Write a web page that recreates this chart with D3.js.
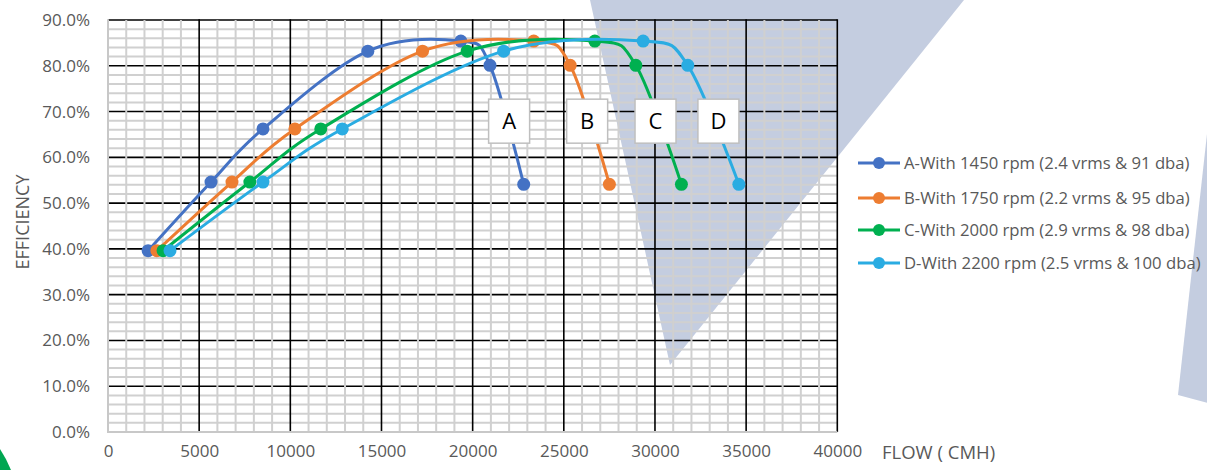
<!DOCTYPE html>
<html><head><meta charset="utf-8">
<script src="https://cdn.jsdelivr.net/npm/d3@7"></script>
<style>
html,body{margin:0;padding:0;background:#fff;}
svg{display:block;font-family:"Open Sans","Noto Sans",sans-serif;}
</style></head>
<body><svg id="chart" width="1207" height="470"></svg>
<script>
// ---- data ----
const seriesNames = [
  "A-With 1450 rpm (2.4 vrms & 91 dba)",
  "B-With 1750 rpm (2.2 vrms & 95 dba)",
  "C-With 2000 rpm (2.9 vrms & 98 dba)",
  "D-With 2200 rpm (2.5 vrms & 100 dba)"
];
const seriesLetters = ["A", "B", "C", "D"];
const seriesColors = ["#4472C4", "#ED7D31", "#00B050", "#2AACE2"];
const flowA = [2200, 5650, 8500, 14250, 19350, 20950, 22800];
const flowB = [2680, 6800, 10250, 17250, 23350, 25350, 27500];
const flowC = [3020, 7780, 11670, 19700, 26700, 28950, 31450];
const flowD = [3400, 8500, 12850, 21700, 29350, 31800, 34600];
const effA = [0.396, 0.546, 0.662, 0.832, 0.854, 0.801, 0.541];
const effB = [0.396, 0.546, 0.662, 0.832, 0.854, 0.801, 0.541];
const effC = [0.396, 0.546, 0.662, 0.832, 0.854, 0.801, 0.541];
const effD = [0.396, 0.546, 0.662, 0.832, 0.854, 0.801, 0.541];
const labelFlow = [22000, 26280, 30030, 33480];
const labelEff = 0.679;
const xTicks = [0, 5000, 10000, 15000, 20000, 25000, 30000, 35000, 40000];
const yTicks = [0, 0.1, 0.2, 0.3, 0.4, 0.5, 0.6, 0.7, 0.8, 0.9];
const xTitle = "FLOW ( CMH)";
const yTitle = "EFFICIENCY";

const flows = [flowA, flowB, flowC, flowD];
const effs = [effA, effB, effC, effD];

const svg = d3.select("#chart");
const x = d3.scaleLinear().domain([0, 40000]).range([108, 837.3]);
const y = d3.scaleLinear().domain([0, 0.9]).range([432, 20]);

// ---- decorative background shapes ----
svg.append("polygon").attr("points", "590,0 964,0 670,365").attr("fill", "#C4CDE0");
svg.append("polygon").attr("points", "1208,125 1178,395 1208,403").attr("fill", "#C4CDE0");
svg.append("path").attr("d", "M0,449 Q6,458 11,470 L0,470 Z").attr("fill", "#00A651");

const g = svg.append("g");
// minor horizontal
const yMinor = d3.range(0, 0.9001, 0.02).filter(v => Math.abs(Math.round(v * 10) - v * 10) > 1e-6);
g.selectAll(".hmin").data(yMinor).enter().append("line")
  .attr("x1", x(0)).attr("x2", x(40000)).attr("y1", d => y(d)).attr("y2", d => y(d))
  .attr("stroke", "#D0D0D0").attr("stroke-width", 2);
// major horizontal
g.selectAll(".hmaj").data(yTicks.filter(d => d > 0)).enter().append("line")
  .attr("x1", x(0)).attr("x2", x(40000)).attr("y1", d => y(d)).attr("y2", d => y(d))
  .attr("stroke", "#000").attr("stroke-width", 1.6);
// minor vertical
const xMinor = d3.range(1000, 40000, 1000).filter(v => v % 5000 !== 0);
g.selectAll(".vmin").data(xMinor).enter().append("line")
  .attr("x1", d => x(d)).attr("x2", d => x(d)).attr("y1", y(0)).attr("y2", y(0.9))
  .attr("stroke", "#D0D0D0").attr("stroke-width", 2);
// major vertical
g.selectAll(".vmaj").data(xTicks.filter(d => d > 0)).enter().append("line")
  .attr("x1", d => x(d)).attr("x2", d => x(d)).attr("y1", y(0)).attr("y2", y(0.9) - 0.8)
  .attr("stroke", "#000").attr("stroke-width", 1.6);
// axis lines (gray)
g.append("line").attr("x1", x(0)).attr("x2", x(0)).attr("y1", y(0) + 1).attr("y2", y(0.9) - 0.8)
  .attr("stroke", "#C8C8C8").attr("stroke-width", 2);
g.append("line").attr("x1", x(0)).attr("x2", x(40000)).attr("y1", y(0)).attr("y2", y(0))
  .attr("stroke", "#C8C8C8").attr("stroke-width", 2);

// ---- axes labels ----
const yAxis = d3.axisLeft(y).tickValues(yTicks).tickFormat(d3.format(".1%")).tickSize(0).tickPadding(18);
const ya = svg.append("g").attr("transform", `translate(${x(0)},0)`).call(yAxis);
ya.select(".domain").remove();
ya.selectAll("text").attr("font-size", 17).attr("fill", "#595959").attr("font-family", "Open Sans");

const xAxis = d3.axisBottom(x).tickValues(xTicks).tickFormat(d3.format("d")).tickSize(0).tickPadding(13);
const xa = svg.append("g").attr("transform", `translate(0,${y(0)})`).call(xAxis);
xa.select(".domain").remove();
xa.selectAll("text").attr("font-size", 17).attr("fill", "#595959").attr("font-family", "Open Sans");

svg.append("text").attr("x", 882).attr("y", 459).attr("font-size", 18.5).attr("fill", "#595959").text(xTitle);
svg.append("text").attr("transform", "translate(29,222) rotate(-90)").attr("text-anchor", "middle")
  .attr("font-size", 18).attr("fill", "#595959").text(yTitle);

// ---- series ----
const line = d3.line().x(d => x(d[0])).y(d => y(d[1])).curve(d3.curveCatmullRom.alpha(0));
flows.forEach((fl, i) => {
  const pts = fl.map((f, j) => [f, effs[i][j]]);
  svg.append("path").attr("d", line(pts)).attr("fill", "none")
    .attr("stroke", seriesColors[i]).attr("stroke-width", 3).attr("stroke-linecap", "round");
  svg.selectAll(null).data(pts).enter().append("circle")
    .attr("cx", d => x(d[0])).attr("cy", d => y(d[1])).attr("r", 6.5).attr("fill", seriesColors[i]);
});

// ---- letter labels ----
seriesLetters.forEach((L, i) => {
  const cx = x(labelFlow[i]), cy = y(labelEff);
  const w = 41, h = 44;
  svg.append("rect").attr("x", cx - w / 2).attr("y", cy - h / 2).attr("width", w).attr("height", h)
    .attr("fill", "#fff").attr("stroke", "#BFBFBF").attr("stroke-width", 1.5);
  svg.append("text").attr("x", cx).attr("y", cy + 8).attr("text-anchor", "middle")
    .attr("font-size", 22).attr("fill", "#000").text(L);
});

// ---- legend ----
const legY = [163, 198, 230, 263];
seriesNames.forEach((nm, i) => {
  const lg = svg.append("g").attr("transform", `translate(0,${legY[i]})`);
  lg.append("line").attr("x1", 858).attr("x2", 900).attr("y1", 0).attr("y2", 0)
    .attr("stroke", seriesColors[i]).attr("stroke-width", 3);
  lg.append("circle").attr("cx", 879).attr("cy", 0).attr("r", 6).attr("fill", seriesColors[i]);
  lg.append("text").attr("x", 904).attr("y", 6).attr("font-size", 16.7).attr("fill", "#595959").text(nm);
});
</script></body></html>
